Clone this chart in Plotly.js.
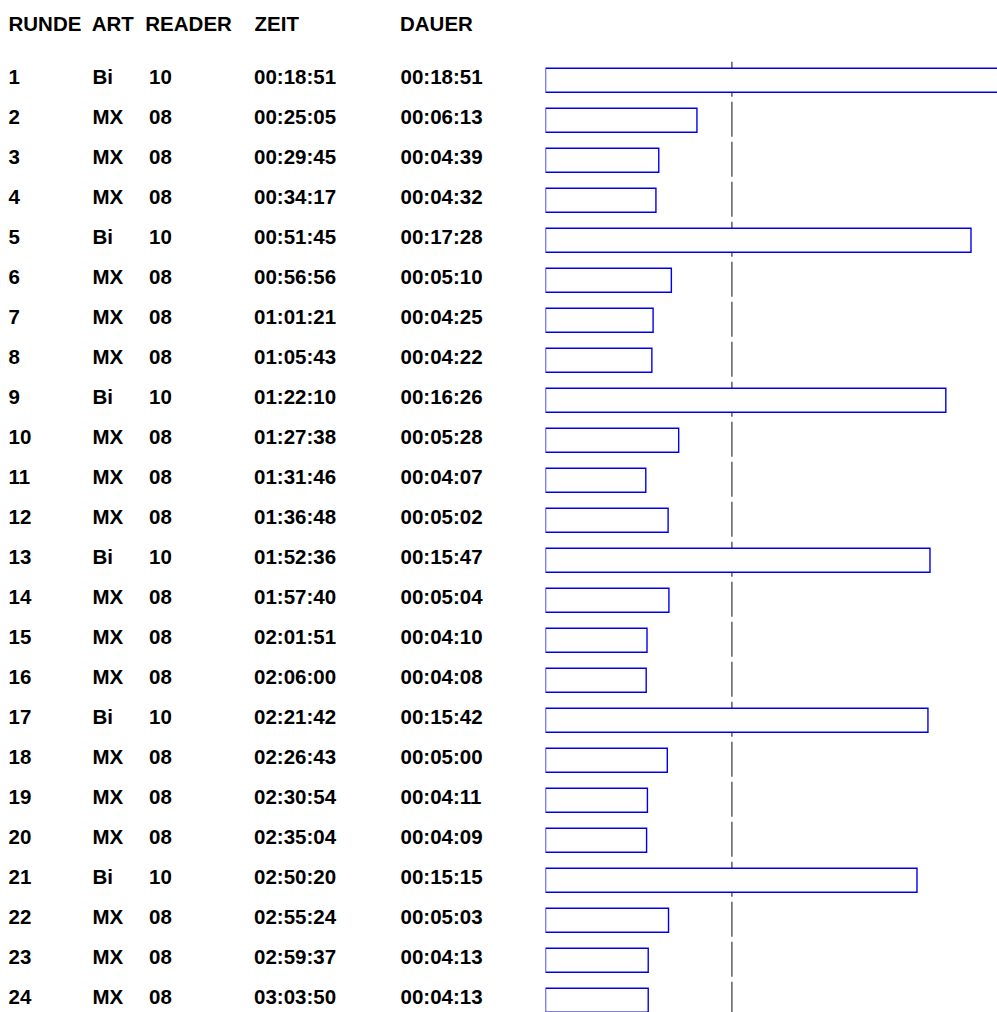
<!DOCTYPE html>
<html>
<head>
<meta charset="utf-8">
<script src="https://cdn.plot.ly/plotly-3.0.1.min.js"></script>
<style>
  html, body { margin: 0; padding: 0; background: #ffffff; overflow: hidden; }
  #chart { width: 997px; height: 1012px; }
</style>
</head>
<body>
<div id="chart"></div>
<script>
// ---- data ----
var headers = ["RUNDE", "ART", "READER", "ZEIT", "DAUER"];
var runde = ["1","2","3","4","5","6","7","8","9","10","11","12","13","14","15","16","17","18","19","20","21","22","23","24"];
var art = ["Bi","MX","MX","MX","Bi","MX","MX","MX","Bi","MX","MX","MX","Bi","MX","MX","MX","Bi","MX","MX","MX","Bi","MX","MX","MX"];
var reader = ["10","08","08","08","10","08","08","08","10","08","08","08","10","08","08","08","10","08","08","08","10","08","08","08"];
var zeit = ["00:18:51","00:25:05","00:29:45","00:34:17","00:51:45","00:56:56","01:01:21","01:05:43","01:22:10","01:27:38","01:31:46","01:36:48","01:52:36","01:57:40","02:01:51","02:06:00","02:21:42","02:26:43","02:30:54","02:35:04","02:50:20","02:55:24","02:59:37","03:03:50"];
var dauer = ["00:18:51","00:06:13","00:04:39","00:04:32","00:17:28","00:05:10","00:04:25","00:04:22","00:16:26","00:05:28","00:04:07","00:05:02","00:15:47","00:05:04","00:04:10","00:04:08","00:15:42","00:05:00","00:04:11","00:04:09","00:15:15","00:05:03","00:04:13","00:04:13"];

// ---- derived ----
function toSec(s) { var p = s.split(":").map(Number); return p[0]*3600 + p[1]*60 + p[2]; }
var dauerSec = dauer.map(toSec);
var rowIdx = runde.map(function (_, i) { return i; });
var avg = dauerSec.reduce(function (a, b) { return a + b; }, 0) / dauerSec.length;

// ---- layout constants (pixels) ----
var W = 997, H = 1012;
var barLeftPx = 545.5;          // x=0 of duration axis
var pxPerSec = 0.406;
var rowPitch = 40, row0Px = 80.3;
var colX = [8.5, 92.5, 149, 254, 400.5];
var headX = [8.5, 91.7, 145.3, 254.5, 400];
var FS = 20.5;
var textOffsetRow = -0.046;
var headerRow = -1.354;

var yTop = -row0Px / rowPitch;
var yBot = (H - row0Px) / rowPitch;

var cols = [runde, art, reader, zeit, dauer];
var traces = [];

traces.push({
  type: "bar",
  orientation: "h",
  x: dauerSec,
  y: rowIdx,
  width: 0.6,
  marker: { color: "#ffffff", line: { color: "#0000ee", width: 1.4 } },
  xaxis: "x", yaxis: "y",
  hoverinfo: "skip",
  showlegend: false
});

cols.forEach(function (col, c) {
  traces.push({
    type: "scatter",
    mode: "text",
    x: col.map(function () { return colX[c]; }),
    y: rowIdx.map(function (i) { return i + textOffsetRow; }),
    text: col,
    textposition: "middle right",
    textfont: { family: "Liberation Sans, Arial, sans-serif", size: FS, color: "#000000", weight: "bold" },
    xaxis: "x2", yaxis: "y",
    hoverinfo: "skip",
    showlegend: false
  });
});

traces.push({
  type: "scatter",
  mode: "text",
  x: headX,
  y: headers.map(function () { return headerRow; }),
  text: headers,
  textposition: "middle right",
  textfont: { family: "Liberation Sans, Arial, sans-serif", size: FS, color: "#000000", weight: "bold" },
  xaxis: "x2", yaxis: "y",
  hoverinfo: "skip",
  showlegend: false
});

var hidden = { showgrid: false, zeroline: false, showticklabels: false, ticks: "", showline: false, fixedrange: true };

var layout = {
  width: W, height: H,
  margin: { l: 0, r: 0, t: 0, b: 0, pad: 0 },
  paper_bgcolor: "#ffffff",
  plot_bgcolor: "rgba(0,0,0,0)",
  showlegend: false,
  xaxis: Object.assign({ domain: [barLeftPx / W, 1], range: [0, (W - barLeftPx) / pxPerSec], anchor: "y" }, hidden),
  xaxis2: Object.assign({ domain: [0, barLeftPx / W], range: [0, barLeftPx], anchor: "y" }, hidden),
  yaxis: Object.assign({ domain: [0, 1], range: [yBot, yTop], anchor: "x" }, hidden),
  shapes: [{
    type: "line", xref: "x", yref: "y",
    x0: avg, x1: avg,
    y0: (61.7 - row0Px) / rowPitch, y1: yBot + 1,
    line: { color: "#666666", width: 1.6, dash: "35px,5px" },
    layer: "below"
  }]
};

Plotly.newPlot("chart", traces, layout, { staticPlot: true, displayModeBar: false });
</script>
</body>
</html>
